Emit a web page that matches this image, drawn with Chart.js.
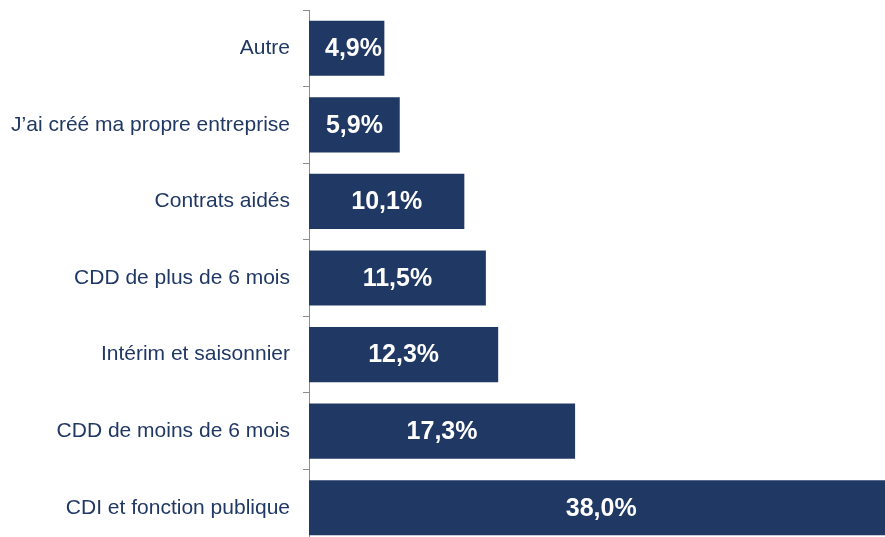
<!DOCTYPE html>
<html>
<head>
<meta charset="utf-8">
<script src="https://cdn.jsdelivr.net/npm/chart.js@4"></script>
<style>
  html, body { margin: 0; padding: 0; background: #fff; overflow: hidden; }
  #wrap { width: 885px; height: 537px; overflow: hidden; }
</style>
</head>
<body>
<div id="wrap"><canvas id="myChart" width="885" height="546"></canvas></div>
<script>
// chart data
const categories = [
  "Autre",
  "J\u2019ai créé ma propre entreprise",
  "Contrats aidés",
  "CDD de plus de 6 mois",
  "Intérim et saisonnier",
  "CDD de moins de 6 mois",
  "CDI et fonction publique",
];
const shares = [4.9, 5.9, 10.1, 11.5, 12.3, 17.3, 38.0];

const navy = "#203864";

// white value label inside every bar
const barLabels = {
  id: "barLabels",
  afterDatasetsDraw(chart) {
    const ctx = chart.ctx;
    const meta = chart.getDatasetMeta(0);
    ctx.save();
    ctx.font = "bold 25px 'Liberation Sans', Arial, sans-serif";
    ctx.fillStyle = "#ffffff";
    ctx.textAlign = "center";
    ctx.textBaseline = "middle";
    meta.data.forEach((bar, i) => {
      const text = shares[i].toFixed(1).replace(".", ",") + "%";
      const w = ctx.measureText(text).width;
      const cx = Math.max((bar.base + bar.x) / 2, bar.base + w / 2 + 16);
      ctx.fillText(text, cx, bar.y + 1);
    });
    ctx.restore();
  },
};

const ctx = document.getElementById("myChart");
new Chart(ctx, {
  type: "bar",
  data: {
    labels: categories,
    datasets: [
      {
        data: shares,
        backgroundColor: navy,
        barPercentage: 0.72,
        categoryPercentage: 1,
      },
    ],
  },
  options: {
    indexAxis: "y",
    responsive: false,
    animation: false,
    layout: { padding: { top: 10, right: 0, bottom: 0, left: 0 } },
    scales: {
      x: {
        display: false,
        min: 0,
        max: 37.45,
      },
      y: {
        afterFit: (scale) => {
          scale.width = 309;
          scale.paddingTop = 0;
          scale.paddingBottom = 0;
        },
        grid: {
          drawOnChartArea: false,
          drawTicks: true,
          tickLength: 6,
          color: "#8c8c8c",
        },
        border: { display: true, color: "#8c8c8c", width: 1 },
        ticks: {
          color: navy,
          padding: 13,
          font: { family: "'Liberation Sans', Arial, sans-serif", size: 21 },
        },
      },
    },
    plugins: {
      legend: { display: false },
      tooltip: { enabled: false },
    },
  },
  plugins: [barLabels],
});
</script>
</body>
</html>
